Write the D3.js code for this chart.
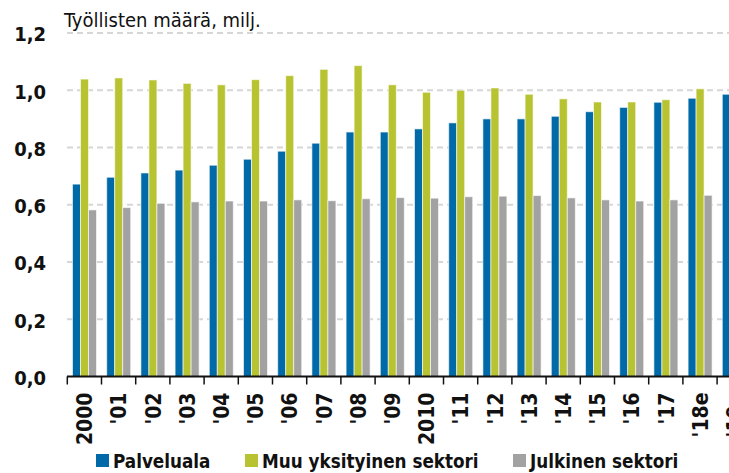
<!DOCTYPE html>
<html>
<head>
<meta charset="utf-8">
<script src="https://cdn.jsdelivr.net/npm/d3@7"></script>
<style>
  body { margin: 0; background: #fff; }
  svg text { font-family: "DejaVu Sans Condensed", "DejaVu Sans", sans-serif; fill: #111; }
</style>
</head>
<body>
<svg id="chart" width="729" height="473"></svg>
<script>
// vuodet ja sarjat (milj. työllistä)
var years = ["2000","'01","'02","'03","'04","'05","'06","'07","'08","'09",
             "2010","'11","'12","'13","'14","'15","'16","'17","'18e","'19e"]
var palveluala = [0.672,0.696,0.711,0.721,0.738,0.759,0.787,0.815,0.854,0.854,
                  0.865,0.886,0.900,0.900,0.909,0.925,0.940,0.958,0.972,0.986]
var muuYksityinen = [1.039,1.043,1.036,1.024,1.019,1.037,1.051,1.073,1.086,1.019,
                     0.993,1.000,1.008,0.986,0.970,0.959,0.959,0.967,1.005,1.012]
var julkinen = [0.582,0.590,0.605,0.610,0.613,0.613,0.617,0.614,0.621,0.625,
                0.623,0.628,0.630,0.632,0.624,0.617,0.613,0.617,0.633,0.630]
var yTicks = [0, 0.2, 0.4, 0.6, 0.8, 1.0, 1.2]

var series = [
  {name: "Palveluala", values: palveluala, color: "#006aa8"},
  {name: "Muu yksityinen sektori", values: muuYksityinen, color: "#b7c330"},
  {name: "Julkinen sektori", values: julkinen, color: "#a2a2a3"}
]

var svg = d3.select('#chart')

var x = d3.scaleBand().domain(years).range([67.3, 67.3 + 20*34.2]).padding(0)
var x1 = d3.scaleBand().domain(series.map(function(s){ return s.name }))
  .range([5.2, 5.2 + 24]).padding(0)
var y = d3.scaleLinear().domain([0, 1.2]).range([376.5, 33])

// gridlines
svg.append('g').selectAll('line').data(yTicks.slice(1)).join('line')
  .attr('x1', 67).attr('x2', 729)
  .attr('y1', function(d){ return y(d) }).attr('y2', function(d){ return y(d) })
  .attr('stroke', '#d6d6d6').attr('stroke-width', 2).attr('stroke-dasharray', '6,4')

// y labels
svg.append('g').selectAll('text').data(yTicks).join('text')
  .attr('x', 46).attr('y', function(d){ return y(d) }).attr('dy', '0.42em')
  .attr('text-anchor', 'end')
  .style('font-size', '20px').style('font-weight', 'bold')
  .text(function(d){ return d3.format('.1f')(d).replace('.', ',') })

// bars
var groups = svg.append('g').selectAll('g').data(years).join('g')
  .attr('transform', function(d){ return 'translate(' + x(d) + ',0)' })
groups.selectAll('rect').data(function(d, i){
    return series.map(function(s){ return {name: s.name, color: s.color, v: s.values[i]} })
  }).join('rect')
  .attr('x', function(d){ return x1(d.name) })
  .attr('width', x1.bandwidth())
  .attr('y', function(d){ return y(d.v) })
  .attr('height', function(d){ return y(0) - y(d.v) })
  .attr('fill', function(d){ return d.color })
  .attr('stroke', '#ffffff').attr('stroke-opacity', 0.6).attr('stroke-width', 1)

// x axis
var xAxis = svg.append('g').attr('transform', 'translate(0,' + y(0) + ')')
xAxis.append('line').attr('x1', 67).attr('x2', 729).attr('stroke', '#111').attr('stroke-width', 2)
xAxis.selectAll('.tick').data(years).join('line')
  .attr('x1', function(d){ return x(d) }).attr('x2', function(d){ return x(d) })
  .attr('y1', 0).attr('y2', 8).attr('stroke', '#111').attr('stroke-width', 1.5)
xAxis.selectAll('text').data(years).join('text')
  .attr('transform', function(d){ return 'translate(' + (x(d) + x.bandwidth()/2) + ',16) rotate(-90)' })
  .attr('text-anchor', 'end').attr('dy', '0.37em')
  .style('font-size', '21px').style('font-weight', 'bold')
  .text(function(d){ return d })

// title
svg.append('text').attr('x', 64).attr('y', 27)
  .style('font-size', '20px')
  .text('Työllisten määrä, milj.')

// legend
var legX = [96, 245, 513]
var leg = svg.append('g').selectAll('g').data(series).join('g')
  .attr('transform', function(d, i){ return 'translate(' + legX[i] + ',454)' })
leg.append('rect').attr('width', 13).attr('height', 13).attr('fill', function(d){ return d.color })
leg.append('text').attr('x', 17).attr('y', 14)
  .style('font-size', '18.7px').style('font-weight', 'bold')
  .text(function(d){ return d.name })
</script>
</body>
</html>
